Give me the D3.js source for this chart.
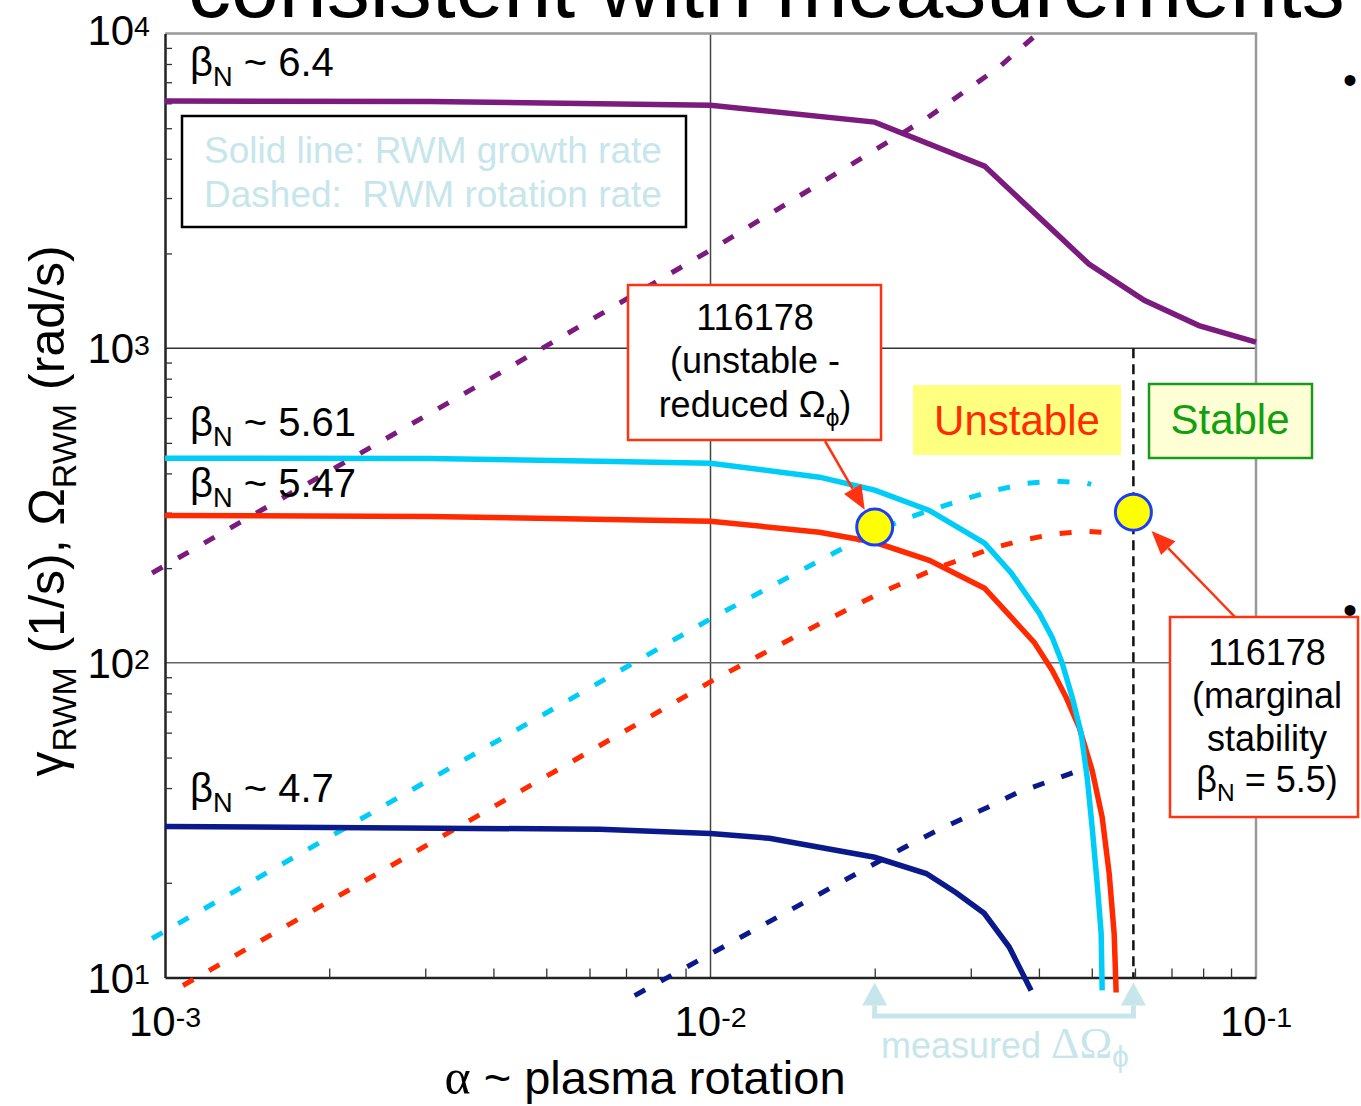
<!DOCTYPE html>
<html>
<head>
<meta charset="utf-8">
<script src="https://cdn.jsdelivr.net/npm/d3@7"></script>
<style>
  body { margin: 0; background: #fff; }
  svg { font-family: "Liberation Sans", Arial, sans-serif; display: block; }
</style>
</head>
<body>
<svg class="chart"></svg>
<script>
// beta_N ~ 6.4 : growth rate (solid) and rotation rate (dashed)
const alpha64 = [0.001, 0.00306, 0.01, 0.02, 0.0318, 0.0494, 0.0624, 0.0786, 0.1];
const gamma64 = [6100, 6080, 5920, 5230, 3790, 1850, 1420, 1180, 1045];
const alphaRot64 = [0.000947, 0.00371, 0.01, 0.02, 0.02496, 0.03383, 0.04108];
const omega64 = [193, 752, 2050, 4260, 5390, 7830, 10490];

// beta_N ~ 5.61
const alpha561 = [0.001, 0.00306, 0.00626, 0.01, 0.01584, 0.02, 0.02518, 0.0318, 0.03558, 0.04005, 0.0423, 0.04411, 0.04603, 0.04781, 0.04904, 0.05008, 0.05115, 0.05202, 0.05224];
const gamma561 = [447, 446, 437, 431, 389, 354, 305, 240, 193, 143.7, 120.5, 100, 77.7, 59.7, 43.2, 30.0, 19.9, 13.8, 9.1];
const alphaRot561 = [0.000947, 0.01004, 0.01437, 0.0182, 0.0204, 0.02286, 0.02594, 0.02944, 0.03341, 0.03793, 0.04319, 0.04904, 0.04987];
const omega561 = [13.3, 138.5, 193, 240, 264, 288, 310, 333, 354, 372, 378, 372, 369];

// beta_N ~ 5.47
const alpha547 = [0.001, 0.00306, 0.01, 0.01584, 0.02, 0.02518, 0.0318, 0.03921, 0.0423, 0.04487, 0.04741, 0.05008, 0.05224, 0.05381, 0.05495, 0.05542];
const gamma547 = [294, 292, 282, 260, 241.6, 211.8, 172.6, 116.2, 94.7, 77.7, 62.4, 45.5, 32.3, 21.4, 13.8, 8.96];
const alphaRot547 = [0.001079, 0.01026, 0.01282, 0.01603, 0.0204, 0.02594, 0.03285, 0.03727, 0.0423, 0.04842, 0.05542, 0.05611];
const omega547 = [9.43, 89.3, 109.6, 134.5, 166.3, 199.7, 231.3, 245.2, 256.2, 261.9, 258.1, 256];

// beta_N ~ 4.7
const alpha47 = [0.001, 0.00626, 0.01, 0.01282, 0.02, 0.02486, 0.02821, 0.03175, 0.03528, 0.0387];
const gamma47 = [30.2, 29.6, 28.7, 27.7, 24.1, 21.4, 18.6, 16.0, 12.5, 9.1];
const alphaRot47 = [0.00726, 0.02247, 0.0254, 0.02858, 0.03216, 0.03634, 0.04124, 0.04642, 0.04781];
const omega47 = [8.76, 25.7, 28.7, 31.6, 34.7, 38.5, 41.7, 44.9, 45.5];

// shot 116178 measured points (reduced rotation, marginal stability)
const measAlpha = [0.02, 0.0596];
const measRate = [270, 301];
const marginalAlpha = 0.0596;

// tick labels
const xMajor = [1e-3, 1e-2, 1e-1];
const xExp = ['-3', '-2', '-1'];
const yMajor = [1e1, 1e2, 1e3, 1e4];
const yExp = ['1', '2', '3', '4'];

// Set up SVG dimensions
const svgWidth = 1361;
const svgHeight = 1106;
const margin = { top: 33.5, left: 165, right: 105, bottom: 128.5 };
const width = svgWidth - margin.left - margin.right;
const height = svgHeight - margin.top - margin.bottom;

const svg = d3.select('.chart')
    .attr('width', svgWidth)
    .attr('height', svgHeight);

const xScale = d3.scaleLog().domain([1e-3, 1e-1]).range([margin.left, margin.left + width]);
const yScale = d3.scaleLog().domain([1e1, 1e4]).range([margin.top + height, margin.top]);

const lightBlue = '#c6e6eb';
const boxRed = '#ff3311';

// text with sub / superscripts: parts = [[text, 'sub'|'sup'|null, family, size]]
function richText(sel, x, y, parts, size) {
    const t = sel.append('text').attr('x', x).attr('y', y).attr('font-size', size);
    let shift = 0;
    parts.forEach(p => {
        const ts = t.append('tspan').text(p[0]);
        let want = 0;
        if (p[1] === 'sub') { ts.attr('font-size', size * 0.68); want = size * 0.24; }
        if (p[1] === 'sup') { ts.attr('font-size', size * 0.68); want = -size * 0.2; }
        if (want - shift !== 0) ts.attr('dy', want - shift);
        shift = want;
        if (p[2]) ts.attr('font-family', p[2]);
        if (p[3]) ts.attr('font-size', p[3]);
    });
    return t;
}

function arrow(sel, x1, y1, x2, y2, color, len, wid, lw) {
    const dx = x2 - x1, dy = y2 - y1;
    const d = Math.hypot(dx, dy), ux = dx / d, uy = dy / d;
    const bx = x2 - ux * len, by = y2 - uy * len;
    sel.append('line')
        .attr('x1', x1).attr('y1', y1).attr('x2', bx).attr('y2', by)
        .attr('stroke', color).attr('stroke-width', lw);
    sel.append('polygon')
        .attr('points', [[x2, y2], [bx - uy * wid / 2, by + ux * wid / 2], [bx + uy * wid / 2, by - ux * wid / 2]].join(' '))
        .attr('fill', color);
}

// slide title (partly cut off above)
svg.append('text')
    .attr('x', 188).attr('y', 17)
    .attr('font-size', 86)
    .text('consistent with measurements c');

// bullets of the slide text
svg.selectAll('.bullet')
    .data([94, 624])
    .enter().append('text')
    .attr('class', 'bullet')
    .attr('x', 1350).attr('y', d => d)
    .attr('text-anchor', 'middle')
    .attr('font-size', 40)
    .text('\u2022');

// grid lines
svg.append('line')
    .attr('x1', xScale(1e-2)).attr('x2', xScale(1e-2))
    .attr('y1', yScale(1e4)).attr('y2', yScale(1e1))
    .attr('stroke', '#444').attr('stroke-width', 1.5);
svg.selectAll('.hgrid')
    .data([1e2, 1e3])
    .enter().append('line')
    .attr('class', 'hgrid')
    .attr('x1', xScale(1e-3)).attr('x2', xScale(1e-1))
    .attr('y1', d => yScale(d)).attr('y2', d => yScale(d))
    .attr('stroke', d => d === 1e3 ? '#333' : '#666').attr('stroke-width', 1.5);

// top and right frame
svg.append('path')
    .attr('d', `M${xScale(1e-3)},${yScale(1e4)}H${xScale(1e-1)}V${yScale(1e1)}`)
    .attr('fill', 'none').attr('stroke', '#999').attr('stroke-width', 2.5);

// minor ticks from the log scales
const xMinor = xScale.ticks().filter(d => !xMajor.includes(d));
const yMinor = yScale.ticks().filter(d => !yMajor.some(m => Math.abs(m - d) < 1e-9));

// Draw x-axis
const xAxis = svg.append('g')
    .attr('transform', `translate(0, ${yScale(1e1)})`)
    .call(d3.axisBottom(xScale).tickValues(xMinor).tickSize(-9).tickFormat('').tickSizeOuter(0));
xAxis.select('.domain').attr('stroke', '#222').attr('stroke-width', 2.5);
xAxis.selectAll('.tick line').attr('stroke', '#333').attr('stroke-width', 1.3);

// Draw y-axis
const yAxis = svg.append('g')
    .attr('transform', `translate(${xScale(1e-3)}, 0)`)
    .call(d3.axisLeft(yScale).tickValues(yMinor).tickSize(-7).tickFormat('').tickSizeOuter(0));
yAxis.select('.domain').attr('stroke', '#222').attr('stroke-width', 2.5);
yAxis.selectAll('.tick line').attr('stroke', '#333').attr('stroke-width', 1.3);

// tick labels
xMajor.forEach((v, i) => {
    richText(svg, xScale(v), yScale(1e1) + 58, [['10'], [xExp[i], 'sup']], 42)
        .attr('text-anchor', 'middle');
});
yMajor.forEach((v, i) => {
    richText(svg, 150, yScale(v) + (v === 1e4 ? 11 : 15), [['10'], [yExp[i], 'sup']], 42)
        .attr('text-anchor', 'end');
});

// axis titles
richText(svg, 645, 1094, [['\u03b1', null, 'Liberation Serif', 50], [' ~ plasma rotation']], 47)
    .attr('text-anchor', 'middle');
richText(svg.append('g').attr('transform', 'translate(64, 511) rotate(-90)'), 0, 0,
    [['\u03b3'], ['RWM', 'sub'], [' (1/s), \u03a9'], ['RWM', 'sub'], [' (rad/s)']], 50)
    .attr('text-anchor', 'middle');

// marginal stability line
svg.append('line')
    .attr('x1', xScale(marginalAlpha)).attr('x2', xScale(marginalAlpha))
    .attr('y1', yScale(1e3)).attr('y2', yScale(1e1))
    .attr('stroke', '#111').attr('stroke-width', 2.5)
    .attr('stroke-dasharray', '10,6');

// Draw lines for each beta_N
const series = [
    { a: alpha64, v: gamma64, color: '#7b1b7e', dash: null },
    { a: alphaRot64, v: omega64, color: '#7b1b7e', dash: '12,18' },
    { a: alphaRot561, v: omega561, color: '#00cdf7', dash: '12,18' },
    { a: alphaRot547, v: omega547, color: '#ff2a00', dash: '12,18' },
    { a: alphaRot47, v: omega47, color: '#0a1a8a', dash: '12,18' },
    { a: alpha47, v: gamma47, color: '#0a1a8a', dash: null },
    { a: alpha547, v: gamma547, color: '#ff2a00', dash: null },
    { a: alpha561, v: gamma561, color: '#00cdf7', dash: null }
];

const line = d3.line()
    .x(d => xScale(d[0]))
    .y(d => yScale(d[1]));

series.forEach(s => {
    svg.append('path')
        .datum(s.a.map((a, i) => [a, s.v[i]]))
        .attr('d', line)
        .attr('fill', 'none')
        .attr('stroke', s.color)
        .attr('stroke-width', s.dash ? 5 : 5.5)
        .attr('stroke-dasharray', s.dash);
});

// beta_N labels
const betaLabels = [['6.4', 76], ['5.61', 436], ['5.47', 497], ['4.7', 802]];
betaLabels.forEach(b => {
    richText(svg, 190, b[1], [['\u03b2'], ['N', 'sub'], [' ~ ' + b[0]]], 40);
});

// legend box
svg.append('rect')
    .attr('x', 182).attr('y', 116).attr('width', 504).attr('height', 111)
    .attr('fill', '#fff').attr('stroke', '#000').attr('stroke-width', 2.5);
svg.append('text').attr('x', 204).attr('y', 163).attr('font-size', 37)
    .attr('fill', lightBlue).text('Solid line: RWM growth rate');
svg.append('text').attr('x', 204).attr('y', 207).attr('font-size', 37)
    .attr('fill', lightBlue).attr('xml:space', 'preserve').text('Dashed:  RWM rotation rate');

// Unstable / Stable labels
svg.append('rect')
    .attr('x', 913).attr('y', 385).attr('width', 208).attr('height', 70)
    .attr('fill', '#ffff80');
svg.append('text').attr('x', 1017).attr('y', 435).attr('font-size', 42)
    .attr('text-anchor', 'middle').attr('fill', '#ff2a00').text('Unstable');
svg.append('rect')
    .attr('x', 1149).attr('y', 384).attr('width', 163).attr('height', 74)
    .attr('fill', '#ffffd6').attr('stroke', '#1a9a1a').attr('stroke-width', 2.5);
svg.append('text').attr('x', 1230).attr('y', 434).attr('font-size', 42)
    .attr('text-anchor', 'middle').attr('fill', '#10a010').text('Stable');

// measured points
const pts = measAlpha.map((a, i) => [xScale(a), yScale(measRate[i])]);

// annotation boxes
svg.append('rect')
    .attr('x', 628).attr('y', 285).attr('width', 253).attr('height', 155)
    .attr('fill', '#fff').attr('stroke', boxRed).attr('stroke-width', 2.5);
svg.append('text').attr('x', 755).attr('y', 330).attr('font-size', 36)
    .attr('text-anchor', 'middle').text('116178');
svg.append('text').attr('x', 755).attr('y', 373).attr('font-size', 36)
    .attr('text-anchor', 'middle').text('(unstable -');
richText(svg, 755, 417, [['reduced \u03a9'], ['\u03d5', 'sub'], [')']], 36)
    .attr('text-anchor', 'middle');

svg.append('rect')
    .attr('x', 1170).attr('y', 617).attr('width', 188).attr('height', 200)
    .attr('fill', '#fff').attr('stroke', boxRed).attr('stroke-width', 2.5);
['116178', '(marginal', 'stability'].forEach((t, i) => {
    svg.append('text').attr('x', 1267).attr('y', 665 + i * 43).attr('font-size', 36)
        .attr('text-anchor', 'middle').text(t);
});
richText(svg, 1267, 792, [['\u03b2'], ['N', 'sub'], [' = 5.5)']], 36)
    .attr('text-anchor', 'middle');

// arrows to the measured points
function pointArrow(x1, y1, p, gap) {
    const dx = p[0] - x1, dy = p[1] - y1, d = Math.hypot(dx, dy);
    arrow(svg, x1, y1, p[0] - dx / d * gap, p[1] - dy / d * gap, boxRed, 24, 20, 2.5);
}
pointArrow(825, 441, pts[0], 20);
pointArrow(1235, 617, pts[1], 26);

svg.selectAll('.meas')
    .data(pts)
    .enter().append('circle')
    .attr('class', 'meas')
    .attr('cx', d => d[0]).attr('cy', d => d[1])
    .attr('r', 18)
    .attr('fill', '#ffff00')
    .attr('stroke', '#1a3cff')
    .attr('stroke-width', 3);

// measured delta Omega bracket
const yb = 1016;
pts.forEach(p => {
    arrow(svg, p[0], yb + 2, p[0], yScale(1e1) + 5, lightBlue, 23, 25, 5);
});
svg.append('line')
    .attr('x1', pts[0][0] - 2.5).attr('x2', pts[1][0] + 2.5)
    .attr('y1', yb).attr('y2', yb)
    .attr('stroke', lightBlue).attr('stroke-width', 5);
richText(svg, 881, 1058, [['measured '], ['\u0394\u03a9', null, 'Liberation Serif', 44], ['\u03d5', 'sub', null, 30]], 36)
    .attr('fill', lightBlue);
</script>
</body>
</html>
